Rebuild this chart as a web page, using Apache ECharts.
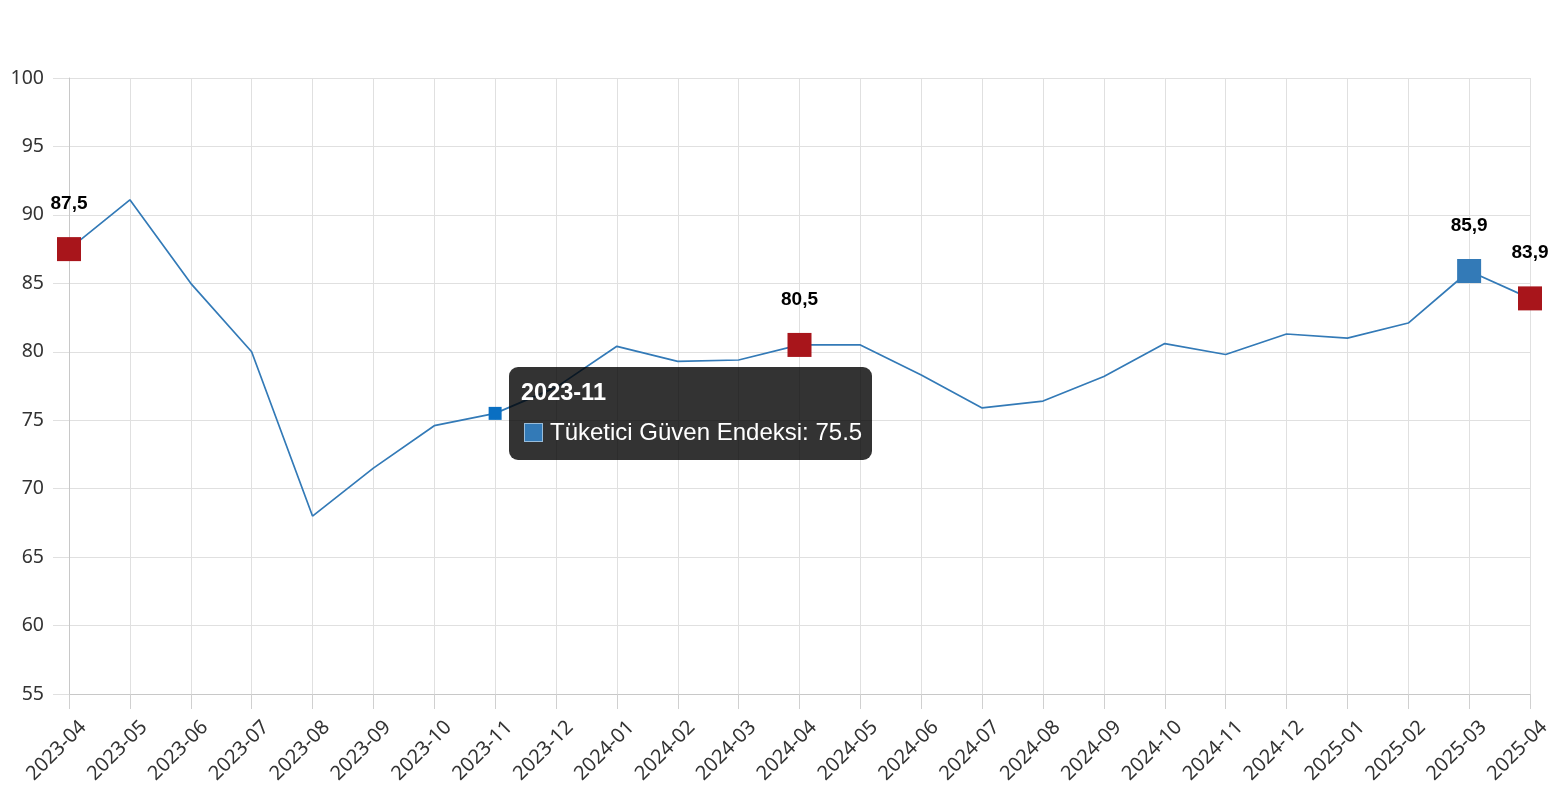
<!DOCTYPE html>
<html><head><meta charset="utf-8">
<script src="https://cdn.jsdelivr.net/npm/echarts@6/dist/echarts.min.js"></script>
<style>html,body{margin:0;padding:0;background:#fff}#c{width:1556px;height:800px}</style>
</head><body><div id="c"></div>
<script>
const categories = ['2023-04','2023-05','2023-06','2023-07','2023-08','2023-09','2023-10','2023-11','2023-12','2024-01','2024-02','2024-03','2024-04','2024-05','2024-06','2024-07','2024-08','2024-09','2024-10','2024-11','2024-12','2025-01','2025-02','2025-03','2025-04'];
const values = [87.5,91.1,85.0,80.0,68.0,71.5,74.6,75.5,77.4,80.4,79.3,79.4,80.5,80.5,78.3,75.9,76.4,78.2,80.6,79.8,81.3,81.0,82.1,85.9,83.9];
const redMarks = ['2023-04','2024-04','2025-04'];
const blueMarks = ['2025-03'];
const hoverIndex = 7;
const seriesName = 'Tüketici Güven Endeksi';

const lineColor = '#337ab7';
const data = values.map((v, i) => {
  const c = categories[i];
  const lbl = {show:true, position:'top', distance:24, color:'#000', fontWeight:'bold', fontSize:19, fontFamily:'Liberation Sans, Arial, sans-serif', formatter: p => String(p.value).replace('.', ',')};
  if (redMarks.includes(c)) return {value:v, symbol:'rect', symbolSize:24, itemStyle:{color:'#a8151b'}, label:lbl};
  if (blueMarks.includes(c)) return {value:v, symbol:'rect', symbolSize:24, itemStyle:{color:lineColor}, label:lbl};
  if (i === hoverIndex) return {value:v, symbol:'rect', symbolSize:13, itemStyle:{color:'#0a6fc2'}};
  return {value:v};
});

const chart = echarts.init(document.getElementById('c'));
chart.setOption({
  animation:false,
  grid:{left:69, right:26, top:78, bottom:106, containLabel:false},
  tooltip:{
    trigger:'item', alwaysShowContent:true, triggerOn:'none',
    backgroundColor:'rgba(0,0,0,0.8)', borderWidth:0, padding:[12,10,15,12],
    extraCssText:'border-radius:9px;box-shadow:none;',
    position: (pt) => [pt[0]+14, pt[1]-46],
    formatter: p => '<div style="font-family:Liberation Sans,Arial,sans-serif;color:#fff">'
      + '<div style="font-weight:bold;font-size:23.5px;line-height:26px;margin-bottom:14px">' + p.name + '</div>'
      + '<div style="font-size:24px;line-height:26px;height:26px;white-space:nowrap;display:flex;align-items:center"><span style="display:inline-block;width:19px;height:19px;background:' + lineColor + ';border:1px solid rgba(255,255,255,0.5);box-sizing:border-box;margin-left:3px;margin-right:7px"></span>' + seriesName + ': ' + p.value + '</div></div>'
  },
  xAxis:{
    type:'category', data:categories, boundaryGap:false,
    axisLine:{lineStyle:{color:'#c8c8c8'}},
    axisTick:{show:true, length:15, lineStyle:{color:'#d0d0d0'}},
    axisLabel:{rotate:45, color:'#333', fontSize:20, fontFamily:'Noto Sans, sans-serif', margin:16, interval:0, verticalAlign:'top', padding:[10,0,0,0]},
    splitLine:{show:true, lineStyle:{color:'#e0e0e0'}}
  },
  yAxis:{
    type:'value', min:55, max:100, interval:5,
    axisLine:{show:true, lineStyle:{color:'#c8c8c8'}},
    axisTick:{show:true, length:16, lineStyle:{color:'#e0e0e0'}},
    axisLabel:{color:'#333', fontSize:19.5, fontFamily:'Noto Sans, sans-serif', margin:25},
    splitLine:{show:true, lineStyle:{color:'#e0e0e0'}}
  },
  series:[{
    name:seriesName, type:'line', data:data, symbol:'none', showSymbol:true,
    lineStyle:{color:lineColor, width:1.7}, itemStyle:{color:lineColor},
    emphasis:{disabled:true}
  }]
});
chart.dispatchAction({type:'showTip', seriesIndex:0, dataIndex:hoverIndex});
</script></body></html>
